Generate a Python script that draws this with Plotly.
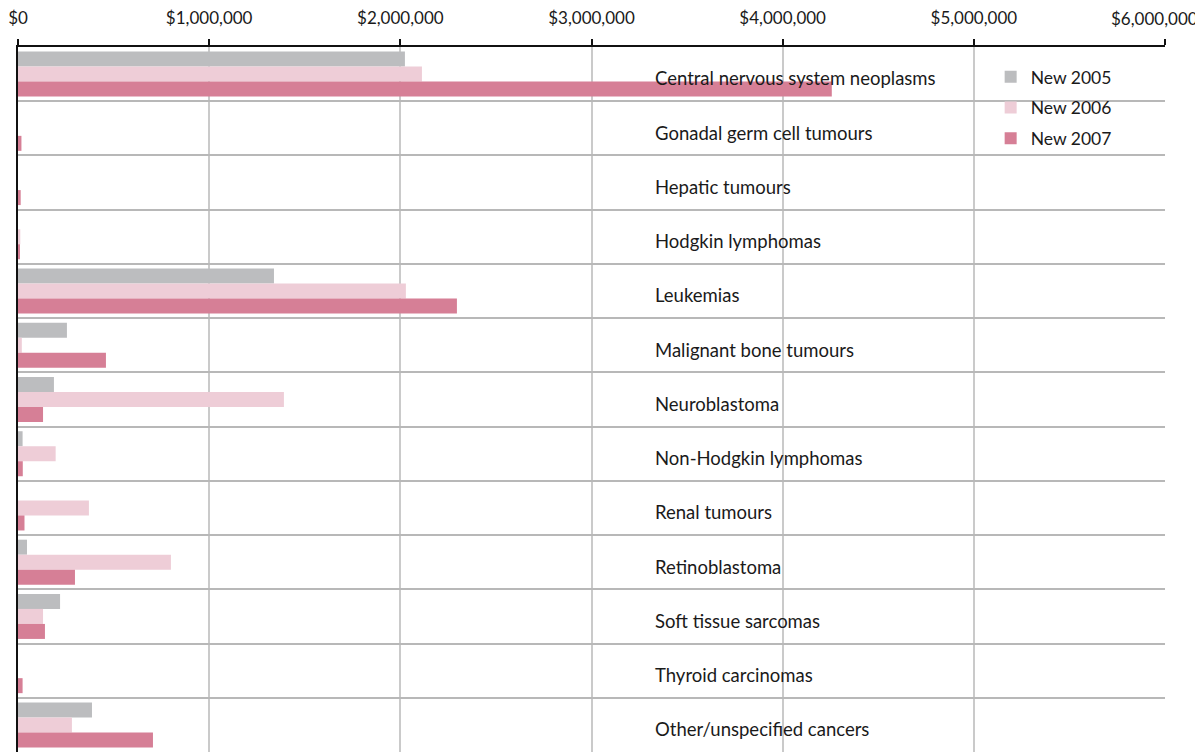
import plotly.graph_objects as go

categories = [
    "Central nervous system neoplasms",
    "Gonadal germ cell tumours",
    "Hepatic tumours",
    "Hodgkin lymphomas",
    "Leukemias",
    "Malignant bone tumours",
    "Neuroblastoma",
    "Non-Hodgkin lymphomas",
    "Renal tumours",
    "Retinoblastoma",
    "Soft tissue sarcomas",
    "Thyroid carcinomas",
    "Other/unspecified cancers",
]
new_2005 = [2024000, 0, 0, 0, 1339000, 256000, 188000, 24000, 0, 47000, 220000, 0, 387000]
new_2006 = [2113000, 0, 0, 12000, 2029000, 20000, 1391000, 197000, 371000, 800000, 131000, 0, 282000]
new_2007 = [4257000, 18000, 14000, 6000, 2296000, 460000, 131000, 25000, 34000, 298000, 141000, 24000, 706000]
tick_values = [0, 1e6, 2e6, 3e6, 4e6, 5e6, 6e6]
tick_labels = ["$0", "$1,000,000", "$2,000,000", "$3,000,000", "$4,000,000", "$5,000,000", "$6,000,000"]

series = [
    ("New 2005", new_2005, "#bcbdbf"),
    ("New 2006", new_2006, "#eecdd7"),
    ("New 2007", new_2007, "#d67f96"),
]

FONT = "Lato, 'Noto Sans', sans-serif"
ypos = list(range(len(categories)))

fig = go.Figure()
for name, vals, color in series:
    fig.add_trace(go.Bar(
        x=vals, y=ypos, name=name, orientation="h", legendgroup=name,
        marker=dict(color=color, line=dict(width=0)),
    ))

for i, cat in enumerate(categories):
    fig.add_annotation(
        x=3.32e6, y=i + 0.08, xref="x", yref="y", text=cat, showarrow=False,
        xanchor="left", yanchor="middle", font=dict(size=18.5, color="#1a1a1a", family=FONT),
    )

# the last tick label is pulled in from the edge so it stays on the page
fig.add_annotation(
    x=tick_values[-1], y=1, xref="x", yref="paper", text=tick_labels[-1], showarrow=False,
    xanchor="right", yanchor="bottom", xshift=34, yshift=17, borderpad=0,
    font=dict(size=17, color="#1a1a1a", family=FONT),
)
ticktext = tick_labels[:-1] + [""]

# page body has an 8px margin, so the figure is sized to fit the window
fig.update_layout(
    width=1195, height=744,
    margin=dict(l=10, r=38, t=39, b=0, autoexpand=False),
    plot_bgcolor="white", paper_bgcolor="white",
    barmode="group", bargap=0.17, bargroupgap=0,
    font=dict(family=FONT, color="#1a1a1a"),
    showlegend=True,
    legend=dict(
        x=0.848, y=0.983, xanchor="left", yanchor="top",
        font=dict(size=17.5, color="#1a1a1a"), traceorder="grouped",
        bgcolor="rgba(0,0,0,0)", itemwidth=30, tracegroupgap=5,
    ),
)
fig.update_xaxes(
    side="top", range=[0, 6000000], tickvals=tick_values, ticktext=ticktext,
    showgrid=True, gridcolor="#cacaca", gridwidth=1.5,
    showline=True, linecolor="#111111", linewidth=2,
    ticks="outside", ticklen=6, tickcolor="#111111", tickwidth=1.5,
    tickfont=dict(size=17, color="#1a1a1a"), zeroline=False, automargin=False,
    ticklabelstandoff=8,
)
fig.update_yaxes(
    range=[len(categories) - 0.5, -0.5],
    tickvals=[i + 0.5 for i in range(len(categories) - 1)],
    showticklabels=False, showgrid=True, gridcolor="#b8b8b8", gridwidth=2,
    showline=True, linecolor="#111111", linewidth=2, ticks="", zeroline=False,
    automargin=False,
)

fig.write_html("out.html")
